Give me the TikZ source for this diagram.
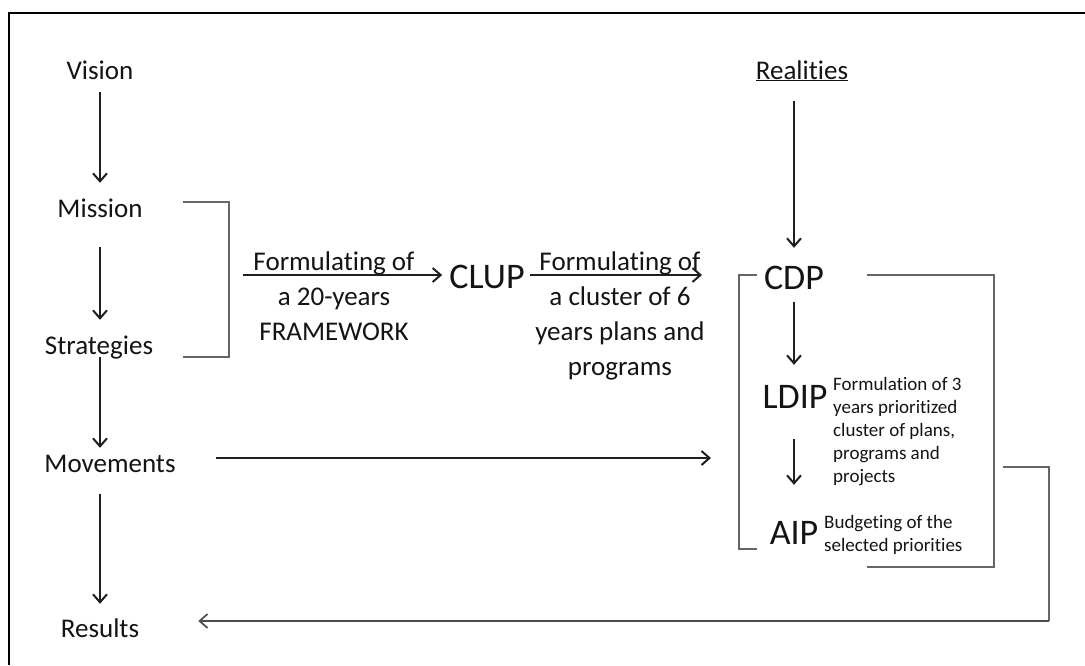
\documentclass[tikz,border=0pt]{standalone}
\usepackage{fontspec}
\setmainfont{Carlito}[Ligatures={NoCommon}]
\usetikzlibrary{arrows.meta,calc}
\begin{document}
\begin{tikzpicture}[x=1pt,y=-1pt,
  every node/.style={inner sep=0pt, anchor=base, text=black!92},
  lab/.style={font=\fontsize{27}{35}\selectfont, text height=17pt, text depth=5pt},
  mlab/.style={font=\fontsize{27}{35}\selectfont, align=center},
  big/.style={font=\fontsize{36}{40}\selectfont, text height=24pt, text depth=0pt},
  small/.style={font=\fontsize{19}{23}\selectfont, align=left, anchor=base west},
  arr/.style={draw=black!88, line width=2pt, -{Straight Barb[length=8pt,width=14pt]}},
  brk/.style={draw=black!60, line width=1.5pt}]
\useasboundingbox[fill=white] (0,0) rectangle (1085,665);
% frame (top and left edges visible)
\draw[line width=2.5pt] (9,665) -- (9,13) -- (1085,13);

% left column
\node[lab] (vision) at (100,79) {Vision};
\node[lab] (mission) at (100,217) {Mission};
\node[lab] (strat) at (99,354) {Strategies};
\node[lab] (move) at (110,472) {Movements};
\node[lab] (results) at (100,637) {Results};

% right column
\node[lab] (real) at (802,79) {\underline{Realities}};
\node[big] (clup) at (487,288) {CLUP};
\node[big] (cdp) at (794,289) {CDP};
\node[big] (ldip) at (795,408) {LDIP};
\node[big] (aip) at (794,544) {AIP};

% arrow labels (multi-line nodes: base = baseline of last line)
\node[lab] (f1) at (334,270) {Formulating of};
\node[mlab] (f1b) at (334,340) {a 20-years\\FRAMEWORK};
\node[lab] (f2) at (620,270) {Formulating of};
\node[mlab] (f2b) at (620,375) {a cluster of 6\\years plans and\\programs};

% descriptions
\node[small] (ldipd) at (833,482) {Formulation of 3\\years prioritized\\cluster of plans,\\programs and\\projects};
\node[small] (aipd) at (824,551) {Budgeting of the\\selected priorities};

% coordinates
\coordinate (a1s) at (243,275);
\coordinate (a2e) at (702,275);
\coordinate (cdpL) at (739,275);
\coordinate (fb1) at (1003,467);
\coordinate (fb2) at (1049,467);
\coordinate (fb3) at (1049,621);

% brackets
\draw[brk] (183,202) -- (229,202) -- (229,357) -- (183,357);
\draw[brk] (757,275) -- (cdpL) -- (739,549) -- (757,549);
\draw[brk] (867,275) -- (994,275) -- (994,567) -- (867,567);

% left column arrows
\draw[arr] ($(vision.south)+(0,8)$) -- ($(mission.north)+(0,-17)$);
\draw[arr] ($(mission.south)+(0,25)$) -- ($(strat.north -| mission.north)+(0,-17)$);
\draw[arr] ($(strat.south -| mission.south)+(0,-2)$) -- ($(move.north -| mission.north)+(0,-7)$);
\draw[arr] ($(move.south -| mission.south)+(0,17)$) -- ($(results.north)+(0,-16)$);

% horizontal arrows
\draw[arr] (a1s) -- ($(a1s -| clup.west)+(-7,0)$);
\draw[arr] ($(a2e -| clup.east)+(5,0)$) -- (a2e);
\draw[arr] ($(move.east)+(40,-8)$) -- ($(move.east -| cdpL)+(-28,-8)$);

% right column arrows
\draw[arr] ($(real.south -| cdp.north)+(0,17)$) -- ($(cdp.north)+(0,-17)$);
\draw[arr] ($(cdp.south)+(0,13)$) -- ($(ldip.north -| cdp.north)+(0,-19)$);
\draw[arr] ($(ldip.south -| cdp.south)+(0,31)$) -- ($(aip.north -| cdp.north)+(0,-35)$);

% feedback
\draw[brk] (fb1) -- (fb2) -- (fb3);
\draw[arr, draw=black!70, line width=1.7pt] (fb3) -- ($(results.east |- fb3)+(59,0)$);
\end{tikzpicture}
\end{document}
